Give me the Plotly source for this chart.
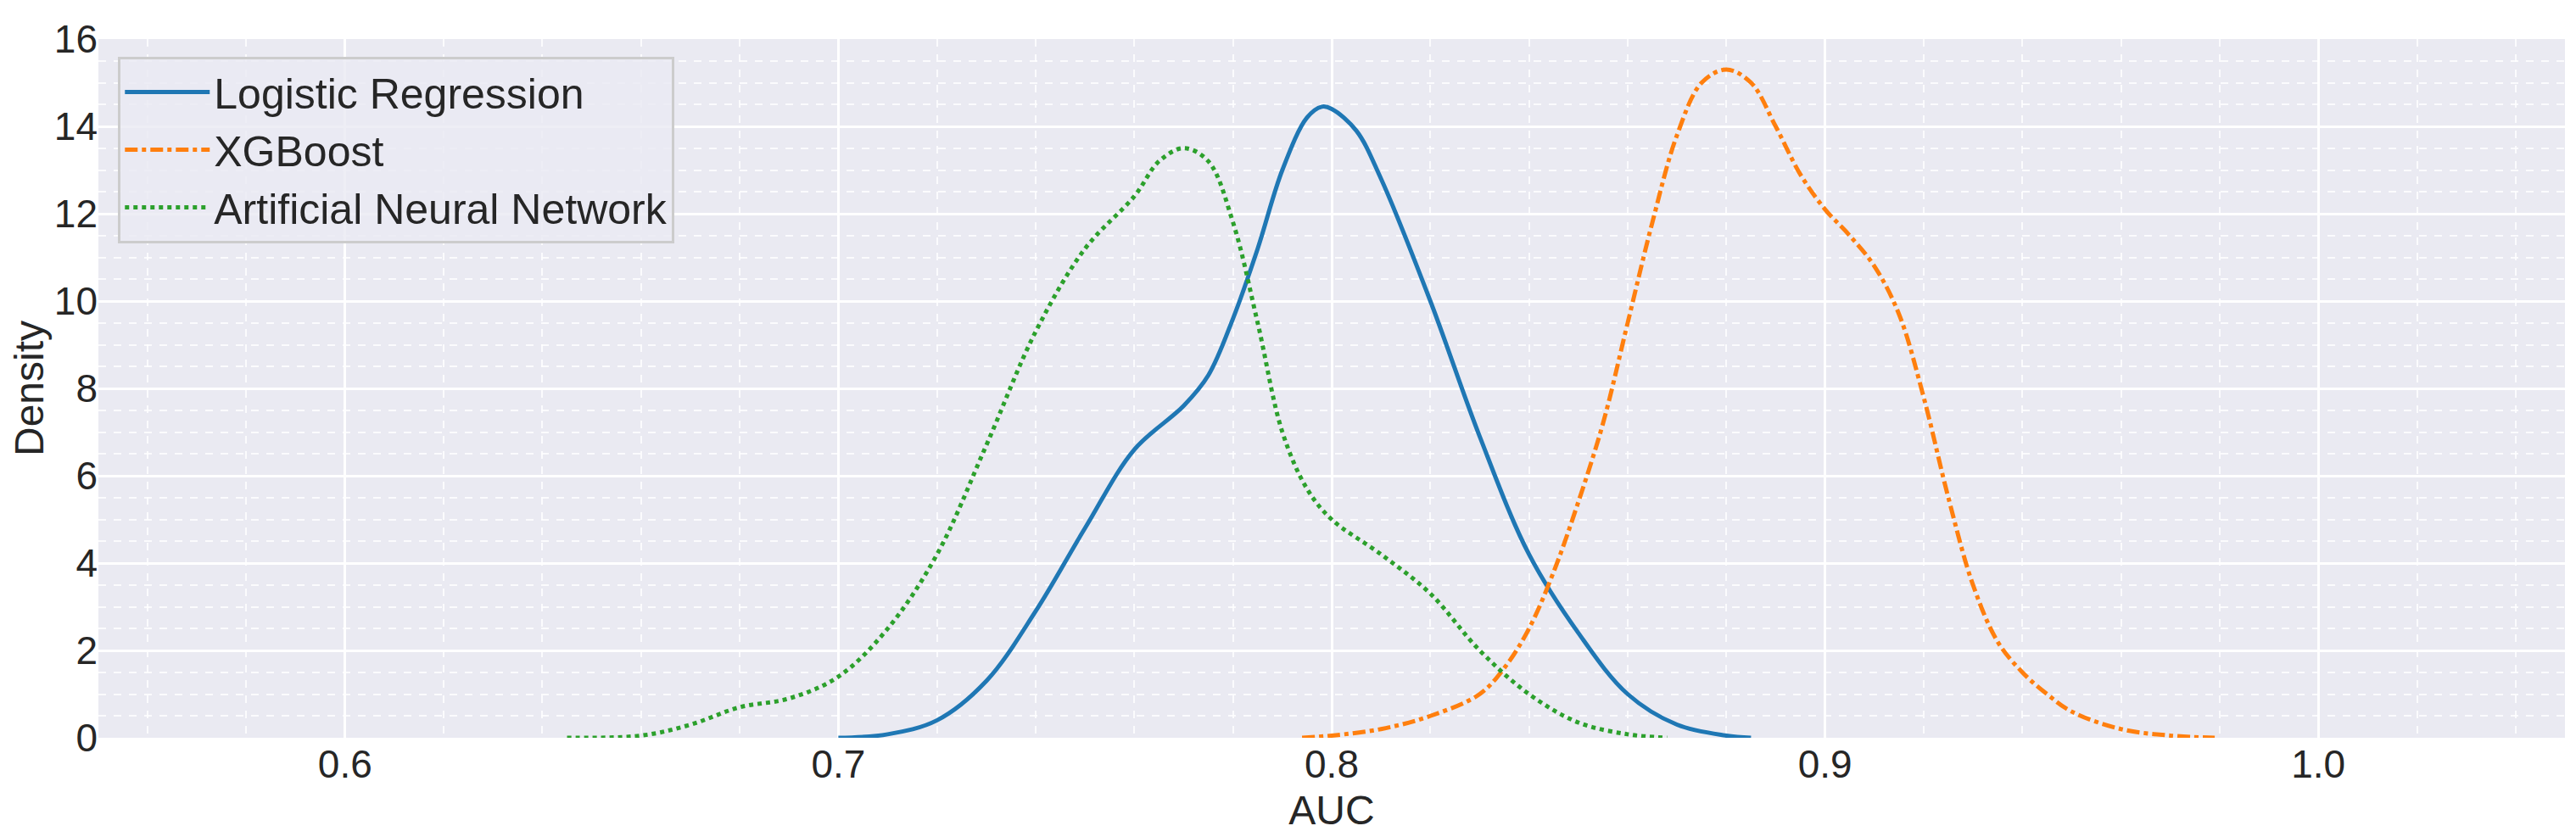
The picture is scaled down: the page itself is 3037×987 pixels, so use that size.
import plotly.graph_objects as go

lr_x = [0.70,0.71,0.72,0.73,0.74,0.75,0.76,0.77,0.775,0.78,0.785,0.79,0.795,0.798,0.80,0.805,0.81,0.82,0.83,0.84,0.85,0.86,0.87,0.88,0.885]
lr_y = [0,0.08,0.4,1.3,2.9,4.8,6.6,7.6,8.3,9.6,11.2,13.0,14.2,14.45,14.4,13.9,12.8,10.0,6.9,4.2,2.4,1.0,0.3,0.05,0]
xgb_x = [0.794,0.80,0.81,0.82,0.83,0.835,0.84,0.845,0.85,0.855,0.86,0.865,0.87,0.875,0.88,0.885,0.89,0.895,0.90,0.905,0.91,0.915,0.92,0.925,0.93,0.935,0.94,0.945,0.95,0.96,0.97,0.979]
xgb_y = [0,0.05,0.2,0.5,1.0,1.6,2.5,3.8,5.4,7.2,9.5,11.8,13.8,15.0,15.3,15.0,14.0,12.9,12.1,11.5,10.8,9.7,7.8,5.5,3.5,2.2,1.5,1.0,0.6,0.2,0.05,0]
ann_x = [0.645,0.66,0.67,0.68,0.69,0.70,0.71,0.72,0.73,0.74,0.75,0.76,0.765,0.77,0.775,0.78,0.785,0.79,0.795,0.80,0.81,0.82,0.83,0.84,0.85,0.86,0.868]
ann_y = [0,0.05,0.3,0.7,0.9,1.4,2.5,4.2,6.7,9.3,11.2,12.4,13.2,13.5,13.2,11.8,9.5,7.0,5.7,5.0,4.2,3.3,2.0,1.0,0.35,0.08,0]

fig = go.Figure()
fig.add_trace(go.Scatter(x=lr_x, y=lr_y, mode="lines", name="Logistic Regression",
                         line=dict(color="#1f77b4", width=5, shape="spline")))
fig.add_trace(go.Scatter(x=xgb_x, y=xgb_y, mode="lines", name="XGBoost",
                         line=dict(color="#ff7f0e", width=5, dash="dashdot", shape="spline")))
fig.add_trace(go.Scatter(x=ann_x, y=ann_y, mode="lines", name="Artificial Neural Network",
                         line=dict(color="#2ca02c", width=5, dash="dot", shape="spline")))

fig.update_layout(
    width=3037, height=987,
    paper_bgcolor="white", plot_bgcolor="#eaeaf2",
    font=dict(family="Liberation Sans, Arial, sans-serif", size=60, color="#262626"),
    margin=dict(l=100, r=21, t=33, b=125),
    legend=dict(x=0.008, y=0.975, xanchor="left", yanchor="top", itemwidth=100,
                bgcolor="rgba(234,234,242,0.8)", bordercolor="#cccccc", borderwidth=3,
                font=dict(size=50)),
    xaxis=dict(range=[0.55, 1.05], tickvals=[0.6,0.7,0.8,0.9,1.0], ticktext=["0.6","0.7","0.8","0.9","1.0"],
               showgrid=True, gridcolor="white", gridwidth=3, zeroline=False, tickfont=dict(size=46),
               minor=dict(dtick=0.02, showgrid=True, gridcolor="rgba(255,255,255,0.8)", griddash="dash", gridwidth=1.5),
               title=dict(text="AUC", font=dict(size=48), standoff=12), ticks=""),
    yaxis=dict(range=[0, 16], dtick=2, showgrid=True, gridcolor="white", gridwidth=3, zeroline=False, tickfont=dict(size=46),
               minor=dict(dtick=0.5, showgrid=True, gridcolor="rgba(255,255,255,0.8)", griddash="dash", gridwidth=1.5),
               title=dict(text="Density", font=dict(size=48), standoff=10), ticks=""),
)
fig.write_html("out.html")
